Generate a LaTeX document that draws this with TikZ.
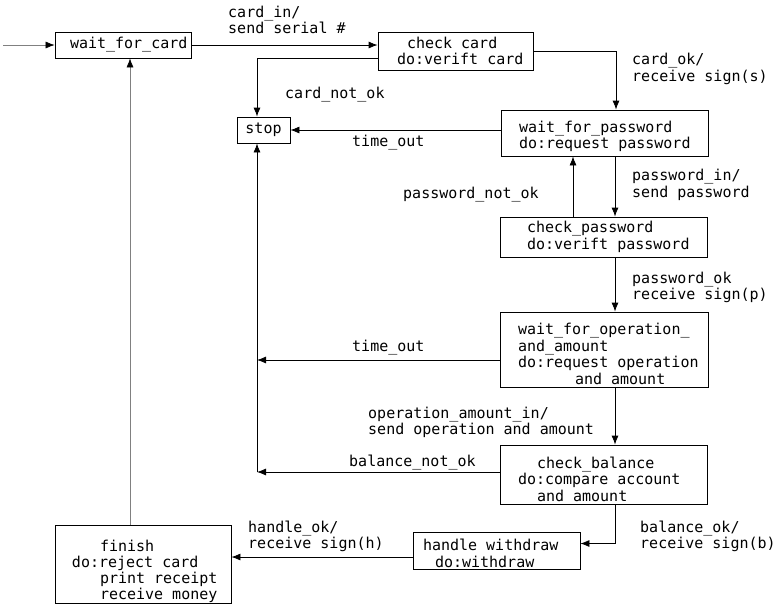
\documentclass[tikz,border=0pt]{standalone}
\usepackage{fontspec}
\newfontfamily\diafont{DejaVu Sans Mono}
\usetikzlibrary{arrows.meta,calc}
\newcommand\myind[1]{\spaceskip=9.03pt\relax\xspaceskip=9.03pt\relax\hspace*{#1pt}}
\newcommand\mydn[1]{\rule{0pt}{#1pt}}
\newcommand\diasel{\diafont\fontsize{15}{16.5}\selectfont}
\begin{document}
\begin{tikzpicture}[x=1pt,y=-1pt,
  every node/.style={font=\diasel},
  box/.style={draw, line width=0.8pt, rectangle, inner xsep=0pt, inner ysep=0pt, align=left},
  lbl/.style={anchor=west, inner sep=0pt, align=left},
  arr/.style={line width=0.8pt, -{Latex[length=9pt,width=7pt]}},
  faint/.style={line width=0.6pt, draw=black!50, -{Latex[length=9pt,width=7pt,black]}},
]
\useasboundingbox (0,0) rectangle (780,606);

% states
\node[box, minimum width=136pt, text width=136pt, minimum height=26pt] (wfc) at (123,45)
  {\myind{15}wait\_for\_card};
\node[box, minimum width=155pt, text width=155pt, minimum height=38pt] (cc) at (455.5,51)
  {\myind{29}check card\\\myind{19}do:verift card};
\node[box, minimum width=53pt, text width=53pt, minimum height=26pt, align=center] (stop) at (263.5,130)
  {stop};
\node[box, minimum width=207pt, text width=207pt, minimum height=46pt] (wfp) at (604.5,133)
  {\myind{18}\mydn{18.4}wait\_for\_password\\\myind{18}do:request password};
\node[box, minimum width=207pt, text width=207pt, minimum height=40pt] (cp) at (603.5,237)
  {\myind{27}check\_password\\\myind{27}do:verift password};
\node[box, minimum width=208pt, text width=208pt, minimum height=75pt] (wfo) at (604,349.5)
  {\myind{18}\mydn{20.4}wait\_for\_operation\_\\\myind{18}and\_amount\\\myind{18}do:request operation\\\myind{75}and amount};
\node[box, minimum width=207pt, text width=207pt, minimum height=59pt] (cb) at (603.5,474.5)
  {\myind{37}\mydn{20.4}check\_balance\\\myind{18}do:compare account\\\myind{37}and amount};
\node[box, minimum width=167pt, text width=167pt, minimum height=37pt] (hw) at (496.5,550.5)
  {\myind{10}\mydn{17.4}handle withdraw\\\myind{22}do:withdraw};
\node[box, minimum width=176pt, text width=176pt, minimum height=78pt, font=\diafont\fontsize{15}{16}\selectfont] (fin) at (143,564)
  {\myind{45}\mydn{26.4}finish\\\myind{17}do:reject card\\\myind{45}print receipt\\\myind{45}receive money};

% helper coordinates
\coordinate (start) at (3,45);
\coordinate (xcard) at (257,58);
\coordinate (xok) at (616,0);
\coordinate (xpin) at (615,0);
\coordinate (xpno) at (573,0);
\coordinate (vtop) at (257,360);
\coordinate (vbot) at (257,472);
\coordinate (yh) at (0,557);
\coordinate (xfin) at (130,0);

% transitions
\draw[faint] (start) -- (wfc.west);
\draw[arr] (wfc.east) -- (cc.west |- wfc.east);
\draw[arr] (cc.west |- xcard) -| (stop.north -| xcard);
\draw[arr] (cc.east) -| (wfp.north -| xok);
\draw[arr] (wfp.west |- stop.east) -- (stop.east);
\draw[arr] (wfp.south -| xpin) -- (cp.north -| xpin);
\draw[arr] (cp.north -| xpno) -- (wfp.south -| xpno);
\draw[arr] (cp.south -| xpin) -- (wfo.north -| xpin);
\draw[arr] (wfo.west |- vtop) -- (vtop);
\draw[arr] (vbot) -- (stop.south -| vbot);
\draw[arr] (wfo.south -| xpin) -- (cb.north -| xpin);
\draw[arr] (cb.west |- vbot) -- (vbot);
\draw[arr] (cb.south -| xpin) |- ([yshift=7pt]hw.east);
\draw[arr] (hw.west |- yh) -- (fin.east |- yh);
\draw[faint] (fin.north -| xfin) -- (wfc.south -| xfin);

% labels
\node[lbl] (l1) at (228,20) {card\_in/\\send serial \#};
\node[lbl] (l2) at (285,95) {card\_not\_ok};
\node[lbl] (l3) at (632,69) {card\_ok/\\receive sign(s)};
\node[lbl] (l4) at (352,143) {time\_out};
\node[lbl] (l5) at (632,185) {password\_in/\\send password};
\node[lbl] (l6) at (403,195) {password\_not\_ok};
\node[lbl] (l7) at (632,287.5) {password\_ok\\receive sign(p)};
\node[lbl] (l8) at (352,348) {time\_out};
\node[lbl] (l9) at (368,422.5) {operation\_amount\_in/\\send operation and amount};
\node[lbl] (l10) at (349,463) {balance\_not\_ok};
\node[lbl] (l11) at (640,536.5) {balance\_ok/\\receive sign(b)};
\node[lbl] (l12) at (248,536.5) {handle\_ok/\\receive sign(h)};
\end{tikzpicture}
\end{document}
